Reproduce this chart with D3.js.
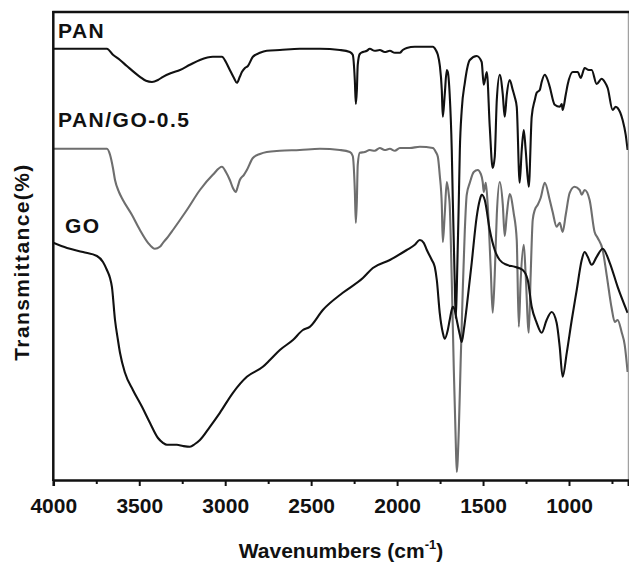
<!DOCTYPE html>
<html>
<head>
<meta charset="utf-8">
<script src="https://cdn.jsdelivr.net/npm/d3@7"></script>
<style>
  html, body { margin: 0; padding: 0; background: #fff; }
  svg { display: block; }
  text { font-family: "Liberation Sans", Arial, Helvetica, sans-serif; font-weight: bold; fill: #111; }
</style>
</head>
<body>
<svg id="chart" width="629" height="563"></svg>
<script>
// ---- data: [wavenumber (cm-1), transmittance (a.u., offset)] ----
const seriesNames = ["PAN", "PAN/GO-0.5", "GO"];

const PAN = [
[4000,107.8],[3688,107.8],[3653,106.3],[3612,105],[3572,103.5],[3496,100.8],[3461,99.8],[3426,99.5],
[3391,100],[3362,100.8],[3310,101.8],[3263,102.5],[3205,103.8],[3147,105],[3072,105.8],[3019,105.8],
[2996,104.5],[2973,102.5],[2949,100.5],[2932,99.3],[2915,100.8],[2903,102],[2885,103],[2868,103.5],
[2839,105.8],[2798,106.8],[2758,107.3],[2682,107.5],[2566,107.8],[2449,107.8],[2333,107.5],[2275,107],
[2258,106.3],[2246,100],[2240,94],[2234,97.5],[2229,103.8],[2217,106.5],[2199,107],[2176,107.3],
[2159,107.8],[2130,107.3],[2101,107.5],[2072,107],[2042,107.3],[2013,106.8],[1984,106.8],[1967,107.5],
[1944,108],[1897,108.3],[1839,108.3],[1792,108.3],[1775,107.5],[1763,106.3],[1752,103.8],[1740,97.5],
[1734,90.8],[1723,96.3],[1711,102.5],[1705,102],[1694,96.3],[1682,82.5],[1676,70],[1665,50],
[1659,40.5],[1653,47.5],[1641,70],[1635,82.5],[1624,92.5],[1606,99.3],[1577,105],[1537,106],
[1508,104.5],[1496,98.8],[1478,102],[1461,88.3],[1444,78],[1432,80.8],[1420,95],[1403,101.3],
[1385,96.3],[1374,90.8],[1362,96.3],[1345,100],[1327,97.5],[1316,95.8],[1304,93.3],[1287,74.3],
[1275,82.5],[1263,87.5],[1252,82.5],[1234,73.3],[1217,90.8],[1199,95],[1188,96.8],[1170,97.5],
[1159,99.5],[1141,101.3],[1124,100],[1112,98.3],[1083,93.8],[1054,93.3],[1042,94],[1037,92.5],
[1019,96.3],[1008,98.8],[978,102],[949,102],[932,100.5],[909,103],[885,102.5],[868,102.5],
[839,99],[810,100.3],[792,99.5],[775,98],[746,92.5],[728,93.3],[717,93],[688,90],[670,86.3],[659,82.5]
];

const PAN_GO = [
[4000,82.8],[3688,82.8],[3670,81.3],[3653,78],[3641,75],[3618,72],[3595,70],[3543,66.3],
[3496,62.5],[3449,59.3],[3409,57.8],[3380,58.3],[3362,59.3],[3333,60.8],[3304,62.5],[3263,65],
[3223,67.5],[3147,72.5],[3072,76.3],[3019,78.3],[2996,77],[2973,75],[2955,73],[2938,72],
[2926,73.5],[2915,75],[2891,76.3],[2874,77.5],[2839,80.5],[2798,81.5],[2758,82],[2682,82.3],
[2566,82.5],[2449,82.8],[2333,82.5],[2275,82],[2258,81],[2246,72.5],[2240,64.3],[2234,70],
[2229,78.8],[2217,81.8],[2188,82],[2159,82.5],[2130,82.3],[2101,83],[2072,82.5],[2042,82.8],
[2013,82.3],[1984,83],[1926,83],[1868,83.3],[1792,83],[1775,82],[1763,80.8],[1752,76.3],
[1740,68.8],[1734,59.5],[1723,66.3],[1711,74.5],[1699,71.3],[1694,68.8],[1682,50],[1670,27.5],
[1659,10],[1653,2],[1641,12.5],[1630,30],[1618,47.5],[1606,62.5],[1595,71.3],[1577,74.3],
[1554,77],[1531,77.5],[1513,76.5],[1502,74.5],[1496,72],[1484,74.3],[1473,68.8],[1455,52.5],
[1444,41.8],[1432,51.3],[1420,66.3],[1403,74.5],[1385,68.8],[1374,61],[1362,66.3],[1345,71.5],
[1322,66.8],[1304,60],[1292,38.3],[1281,50],[1263,58.8],[1252,51.3],[1234,36.8],[1223,51.3],
[1211,65],[1199,67.5],[1182,68.8],[1165,70.5],[1141,74.3],[1112,70],[1095,67],[1072,63.3],
[1054,64.3],[1037,62],[1019,66.3],[996,71.8],[967,73.3],[938,72.5],[926,71.3],[909,72.5],
[880,70],[851,62],[833,60.5],[804,57.5],[781,51.3],[752,43],[734,39.5],[717,40],[694,37],[676,33.8],[659,27]
];

const GO = [
[4000,59.3],[3920,58],[3827,57],[3746,56],[3711,54.5],[3688,52.5],[3670,50.5],[3659,48.3],
[3641,40],[3624,35],[3612,31.8],[3583,26.8],[3537,22.5],[3484,18.3],[3438,14.3],[3391,10.5],
[3362,9.3],[3339,8.8],[3281,8.8],[3246,8.5],[3205,8.3],[3176,9],[3147,10],[3089,13.3],
[3031,16.8],[2955,21.8],[2874,25.8],[2781,28.3],[2740,30],[2682,32.5],[2606,35],[2548,37.5],
[2508,38.3],[2432,42.5],[2316,46.8],[2199,50.5],[2141,53],[2042,55],[1944,57.5],[1897,58.8],
[1868,60],[1845,59.3],[1827,57.5],[1798,55],[1781,53.3],[1769,50],[1752,41.8],[1734,36.8],
[1723,35.3],[1705,37.5],[1694,40],[1676,43.3],[1665,42.5],[1653,40],[1635,36.3],[1624,34.5],
[1612,37.5],[1595,43.3],[1566,54.3],[1537,65.8],[1519,70],[1508,71.3],[1490,70],[1461,62.5],
[1432,57.5],[1403,55],[1362,53.8],[1316,53.3],[1269,52.5],[1240,50],[1217,43.3],[1188,39.3],
[1159,36.8],[1130,40],[1101,42],[1072,39.3],[1054,33.3],[1037,25.8],[1013,31.8],[984,40],
[955,47.5],[926,55],[909,57],[891,55.8],[868,53.8],[839,55.8],[804,57.8],[763,54.3],[717,48.3],[659,41.8]
];

const seriesColors = ["#111111", "#6e6e6e", "#111111"];
const majorTicks = [4000, 3500, 3000, 2500, 2000, 1500, 1000];
const minorTicks = [3750, 3250, 2750, 2250, 1750, 1250, 750];
const xDomain = [4000, 655];
const yDomain = [0, 117];

// ---- layout ----
const svg = d3.select("#chart");
const L = 53.3, R = 628.3, T = 12, B = 480;

const x = d3.scaleLinear().domain(xDomain).range([L, R]);
const y = d3.scaleLinear().domain(yDomain).range([B, T]);

svg.append("defs").append("clipPath").attr("id", "clip")
  .append("rect").attr("x", L).attr("y", T).attr("width", R - L).attr("height", B - T);

const line = d3.line().x(d => x(d[0])).y(d => y(d[1])).curve(d3.curveMonotoneX);

const data = [PAN, PAN_GO, GO];
const g = svg.append("g").attr("clip-path", "url(#clip)");
data.forEach((s, i) => {
  g.append("path").datum(s).attr("d", line)
    .attr("fill", "none").attr("stroke", seriesColors[i])
    .attr("stroke-width", 2.1).attr("stroke-linejoin", "round");
});

// frame
svg.append("line").attr("x1", R).attr("x2", R).attr("y1", T).attr("y2", B)
  .attr("stroke", "#8a8a8a").attr("stroke-width", 1);
svg.append("line").attr("x1", L - 1).attr("x2", R + 1).attr("y1", T).attr("y2", T)
  .attr("stroke", "#111").attr("stroke-width", 2.5);
svg.append("line").attr("x1", L).attr("x2", L).attr("y1", T - 1).attr("y2", B + 1)
  .attr("stroke", "#111").attr("stroke-width", 2.5);

// x axis
const xAxis = d3.axisBottom(x).tickValues(majorTicks).tickSize(6).tickPadding(12)
  .tickFormat(d3.format("d"));
const ax = svg.append("g").attr("transform", `translate(0,${B})`).call(xAxis);
ax.select(".domain").attr("stroke", "#111").attr("stroke-width", 2.5);
ax.selectAll(".tick line").attr("stroke", "#111").attr("stroke-width", 2);
ax.selectAll(".tick text").attr("font-size", 21).attr("font-weight", "bold")
  .attr("font-family", "'Liberation Sans', Arial, sans-serif").attr("fill", "#111");

const axMinor = d3.axisBottom(x).tickValues(minorTicks).tickSize(4).tickFormat("");
const am = svg.append("g").attr("transform", `translate(0,${B})`).call(axMinor);
am.select(".domain").remove();
am.selectAll(".tick line").attr("stroke", "#111").attr("stroke-width", 2);

// axis titles
const xt = svg.append("text").attr("x", 341).attr("y", 558)
  .attr("text-anchor", "middle").attr("font-size", 21);
xt.append("tspan").text("Wavenumbers (cm");
xt.append("tspan").attr("font-size", 13).attr("dy", -9).text("-1");
xt.append("tspan").attr("dy", 9).text(")");

svg.append("text").attr("transform", "translate(29,262) rotate(-90)")
  .attr("text-anchor", "middle").attr("font-size", 21).attr("letter-spacing", 1.4)
  .text("Transmittance(%)");

// series labels
const labelPos = [[58, 38], [58, 127], [65, 233]];
seriesNames.forEach((n, i) => {
  svg.append("text").attr("x", labelPos[i][0]).attr("y", labelPos[i][1])
    .attr("font-size", 21).attr("letter-spacing", 1.5).text(n);
});
</script>
</body>
</html>
